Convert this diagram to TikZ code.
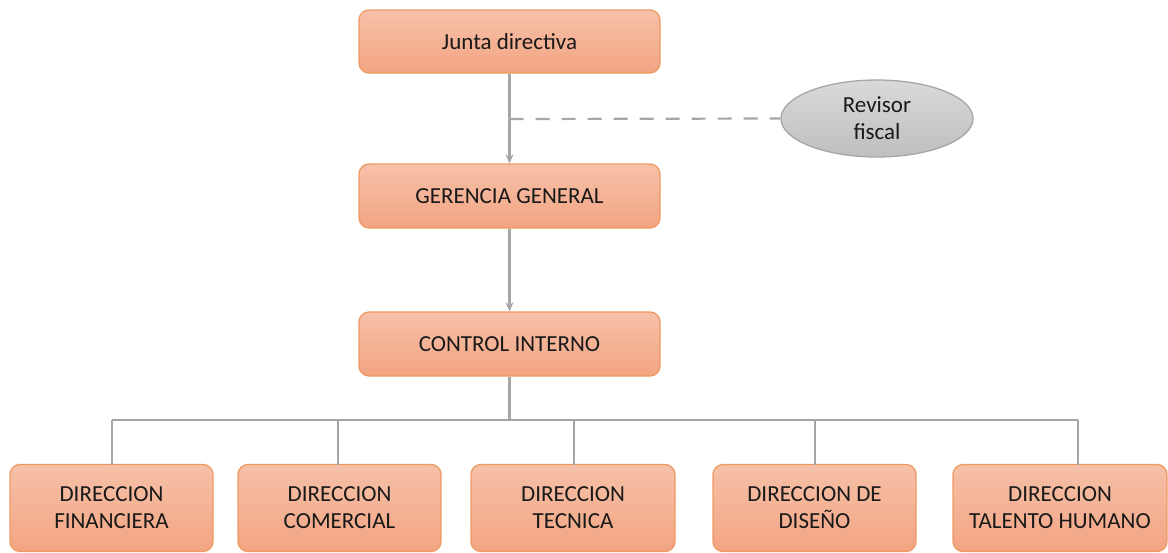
\documentclass[tikz,border=0pt]{standalone}
\usepackage{fontspec}
\setmainfont{Carlito}
\usetikzlibrary{shapes.geometric,arrows.meta}
\definecolor{boxtop}{HTML}{F6C1A9}
\definecolor{boxbot}{HTML}{F3A482}
\definecolor{boxline}{HTML}{EF9A62}
\definecolor{conn}{HTML}{A6A6A6}
\definecolor{elltop}{HTML}{D9D9D9}
\definecolor{ellbot}{HTML}{BFBFBF}
\tikzset{
  orgbox/.style={rectangle, rounded corners=10pt, draw=boxline, line width=1.3pt,
    top color=boxtop, bottom color=boxbot, align=center, inner sep=0pt,
    font=\fontsize{23}{27}\selectfont, text=black!90},
  oval/.style={ellipse, draw=conn, line width=1.3pt, top color=elltop, bottom color=ellbot,
    align=center, inner sep=0pt, font=\fontsize{23}{27}\selectfont, text=black!90},
  link/.style={draw=conn, line width=2.2pt},
  arr/.style={link, -{Stealth[length=9pt,width=8pt]}},
}
\begin{document}
\begin{tikzpicture}[x=1pt,y=-1pt]
\useasboundingbox (0,0) rectangle (1168,552);
\node[orgbox, minimum width=301pt, minimum height=63pt] (junta) at (509.5,41.5) {Junta directiva};
\node[orgbox, minimum width=301pt, minimum height=64pt] (ger) at (509.5,196) {GERENCIA GENERAL};
\node[orgbox, minimum width=301pt, minimum height=64pt] (ctrl) at (509.5,344) {CONTROL INTERNO};
\node[oval, minimum width=192pt, minimum height=77pt] (rev) at (877,118.5) {Revisor\\fiscal};
\node[orgbox, minimum width=203pt, minimum height=87pt] (fin) at (111.5,508) {DIRECCION\\FINANCIERA};
\node[orgbox, minimum width=203pt, minimum height=87pt] (com) at (339.5,508) {DIRECCION\\COMERCIAL};
\node[orgbox, minimum width=204pt, minimum height=87pt] (tec) at (573,508) {DIRECCION\\TECNICA};
\node[orgbox, minimum width=203pt, minimum height=87pt] (dis) at (814.5,508) {DIRECCION DE\\DISEÑO};
\node[orgbox, minimum width=214pt, minimum height=87pt] (tal) at (1060,508) {DIRECCION\\TALENTO HUMANO};
\coordinate (mid) at (509.5,119);
\coordinate (bus) at (509.5,420);
\draw[arr] (junta.south) -- (ger.north);
\draw[arr] (ger.south) -- (ctrl.north);
\draw[link, dash pattern=on 14pt off 12pt] (mid) -- (rev.west);
\draw[link] (ctrl.south) -- (bus);
\draw[link] (112,420) -- (1078,420);
\draw[link] (112,420) -- (112,464.5);
\draw[link] (338,420) -- (338,464.5);
\draw[link] (574,420) -- (574,464.5);
\draw[link] (815,420) -- (815,464.5);
\draw[link] (1078,420) -- (1078,464.5);
\end{tikzpicture}
\end{document}
